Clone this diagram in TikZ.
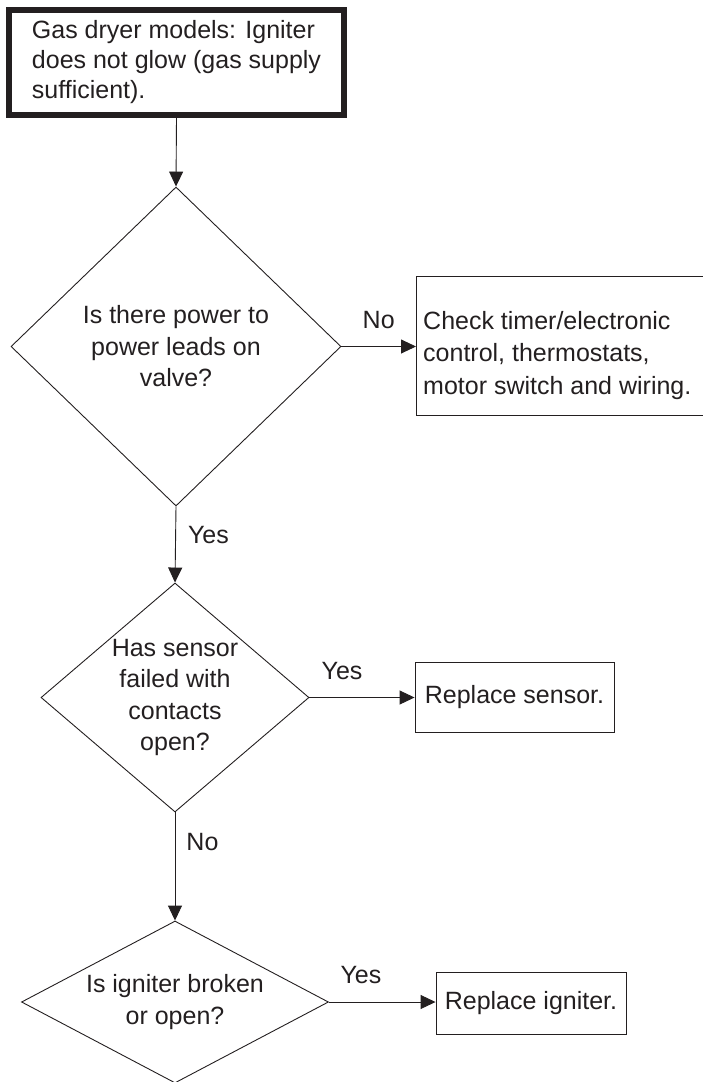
\documentclass[tikz,border=0pt]{standalone}
\usepackage{fontspec}
\setmainfont{Liberation Sans}
\usetikzlibrary{shapes.geometric,arrows.meta}
\definecolor{ink}{HTML}{231F20}
\begin{document}
\begin{tikzpicture}[x=1pt,y=-1pt,
  every node/.style={text=ink, font=\fontsize{25pt}{31.5pt}\selectfont},
  startbox/.style={draw=ink, line width=6pt, minimum width=335pt, minimum height=105pt, inner sep=0pt, align=left},
  decision/.style={diamond, draw=ink, line width=0.9pt, inner sep=0pt, align=center},
  actbox/.style={draw=ink, line width=0.9pt, inner sep=0pt, align=center},
  conn/.style={draw=ink, line width=0.9pt, -{Triangle[length=15pt,width=14pt]}},
  lbl/.style={inner sep=0pt}
]
\useasboundingbox (0,0) rectangle (702,1082);

\node[startbox] (start) at (176.5,62.5)
  {Gas dryer models: Igniter\\[-1.5pt]does not glow (gas supply\\[-1.5pt]sufficient).};

\node[decision, minimum width=330pt, minimum height=319pt, aspect=1.03] (d1) at (176,346.5)
  {Is there power to\\power leads on\\valve?};

\node[actbox, anchor=west, minimum width=300pt, minimum height=139pt,
  label={[anchor=west, align=left, inner sep=0pt, xshift=7pt, yshift=-10pt, text=ink, font=\fontsize{25pt}{32.5pt}\selectfont]west:{Check timer/electronic\\control, thermostats,\\motor switch and wiring.}}] (b1) at (416,345.5) {};

\node[decision, minimum width=268pt, minimum height=229pt, aspect=1.17] (d2) at (175,697.5)
  {Has sensor\\failed with\\contacts\\open?};

\node[actbox, minimum width=199pt, minimum height=70pt] (b2) at (514.5,697) {Replace sensor.};

\node[decision, minimum width=307pt, minimum height=162pt, aspect=1.9] (d3) at (175,1002)
  {Is igniter broken\\or open?};

\node[actbox, minimum width=190pt, minimum height=62pt] (b3) at (531,1003) {Replace igniter.};

\draw[conn] (start.south) -- (d1.north);
\draw[conn] (d1.east) -- (d1.east -| b1.west) node[lbl, midway, above=17pt] (lno1) {No};
\draw[conn] (d1.south) -- (d2.north) node[lbl, pos=0.38, right=12pt] (lyes1) {Yes};
\draw[conn] (d2.east) -- (d2.east -| b2.west) node[lbl, pos=0.31, above=17pt] (lyes2) {Yes};
\draw[conn] (d2.south) -- (d3.north) node[lbl, pos=0.275, right=11pt] (lno2) {No};
\draw[conn] (d3.east) -- (d3.east -| b3.west) node[lbl, pos=0.30, above=18pt] (lyes3) {Yes};
\end{tikzpicture}
\end{document}
